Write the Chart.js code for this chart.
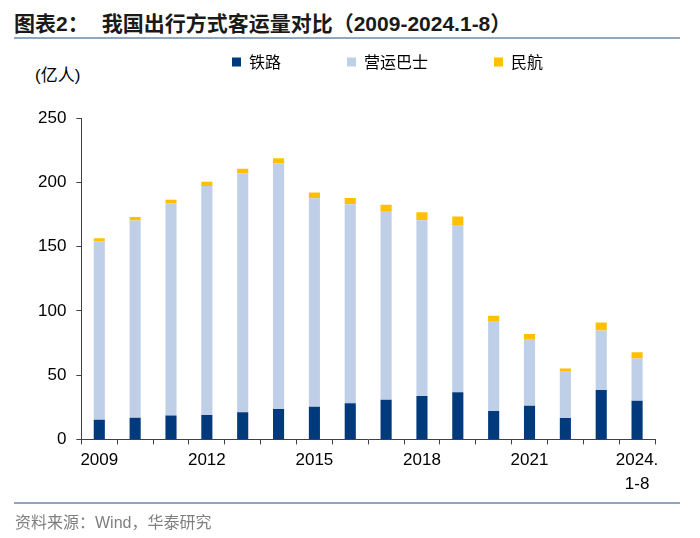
<!DOCTYPE html>
<html>
<head>
<meta charset="utf-8">
<script src="https://cdn.jsdelivr.net/npm/chart.js@4.4.0/dist/chart.umd.min.js"></script>
<style>
  body { margin:0; width:700px; height:538px; background:#fff; position:relative; overflow:hidden;
         font-family:'Liberation Sans','Noto Sans CJK SC',sans-serif; }
  #titulo { position:absolute; left:14px; top:7px; font-size:21px; font-weight:bold; color:#1a1a1a; white-space:nowrap; }
  #titulo span { margin-left:13px; }
  .linea { position:absolute; left:14px; width:666px; height:2px; background:#8ea6bf; }
  #unidad { position:absolute; left:35px; top:61px; font-size:17px; color:#000; }
  #fuente { position:absolute; left:15px; top:509px; font-size:16px; color:#7f7f7f; white-space:nowrap; }
  #caja { position:absolute; left:0; top:-12px; width:700px; height:550px; }
</style>
</head>
<body>
<div id="titulo">图表2：<span>我国出行方式客运量对比（2009-2024.1-8）</span></div>
<div class="linea" style="top:37px"></div>
<div id="unidad">(亿人)</div>
<div id="caja"><canvas id="myChart"></canvas></div>
<div class="linea" style="top:502px"></div>
<div id="fuente">资料来源：Wind，华泰研究</div>

<script>
const anios = ['2009','2010','2011','2012','2013','2014','2015','2016','2017','2018','2019','2020','2021','2022','2023',['2024.','1-8']];
const tieLu = [15.2, 16.8, 18.6, 18.9, 21.1, 23.6, 25.3, 28.1, 30.8, 33.7, 36.6, 22.0, 26.1, 16.7, 38.5, 30.0];
const baShi = [139.0, 153.5, 165.0, 178.3, 186.0, 191.2, 162.3, 154.8, 146.3, 136.8, 130.2, 70.0, 51.5, 35.9, 46.2, 33.0];
const minHang = [2.3, 2.7, 2.9, 3.2, 3.5, 3.9, 4.4, 4.9, 5.5, 6.1, 6.6, 4.2, 4.4, 2.5, 6.2, 4.8];
const nombres = ['铁路', '营运巴士', '民航'];

const ctx = document.getElementById('myChart');
const fuenteTicks = { family: "'Liberation Sans','Noto Sans CJK SC',sans-serif", size: 17, lineHeight: 1.4 };

// la leyenda ocupa menos alto que su padding horizontal, y va algo a la derecha
const ajusteLeyenda = {
  id: 'ajusteLeyenda',
  beforeInit(chart) {
    const fitOriginal = chart.legend.fit;
    chart.legend.fit = function () {
      fitOriginal.bind(chart.legend)();
      this.height = 130;
    };
  },
  afterLayout(chart) {
    chart.legend.left += 46;
    chart.legend.right += 46;
  }
};

new Chart(ctx, {
  type: 'bar',
  data: {
    labels: anios,
    datasets: [
      { label: nombres[0], data: tieLu, backgroundColor: '#003a7d' },
      { label: nombres[1], data: baShi, backgroundColor: '#bfcfe7' },
      { label: nombres[2], data: minHang, backgroundColor: '#ffc000' }
    ]
  },
  options: {
    responsive: true,
    maintainAspectRatio: false,
    animation: false,
    datasets: { bar: { categoryPercentage: 1, barPercentage: 0.31 } },
    layout: { padding: { left: 28, right: 45, top: 0, bottom: 38 } },
    plugins: {
      tooltip: { enabled: false },
      legend: {
        position: 'top',
        labels: {
          boxWidth: 9,
          boxHeight: 9,
          padding: 66,
          color: '#000',
          font: { family: "'Noto Sans CJK SC',sans-serif", size: 16 }
        }
      }
    },
    scales: {
      x: {
        stacked: true,
        border: { color: '#404040', width: 1 },
        grid: { offset: true, drawOnChartArea: false, color: '#404040', tickLength: 5 },
        ticks: {
          autoSkip: false,
          maxRotation: 0,
          padding: 4,
          color: '#000',
          font: fuenteTicks,
          callback: function (v, i) { return i % 3 === 0 ? this.getLabelForValue(v) : ''; }
        }
      },
      y: {
        stacked: true,
        min: 0,
        max: 250,
        border: { color: '#404040', width: 1 },
        grid: { drawOnChartArea: false, color: '#404040', tickLength: 5 },
        ticks: { stepSize: 50, padding: 10, color: '#000', font: { family: "'Liberation Sans',sans-serif", size: 17 } }
      }
    }
  },
  plugins: [ajusteLeyenda]
});
</script>
</body>
</html>
